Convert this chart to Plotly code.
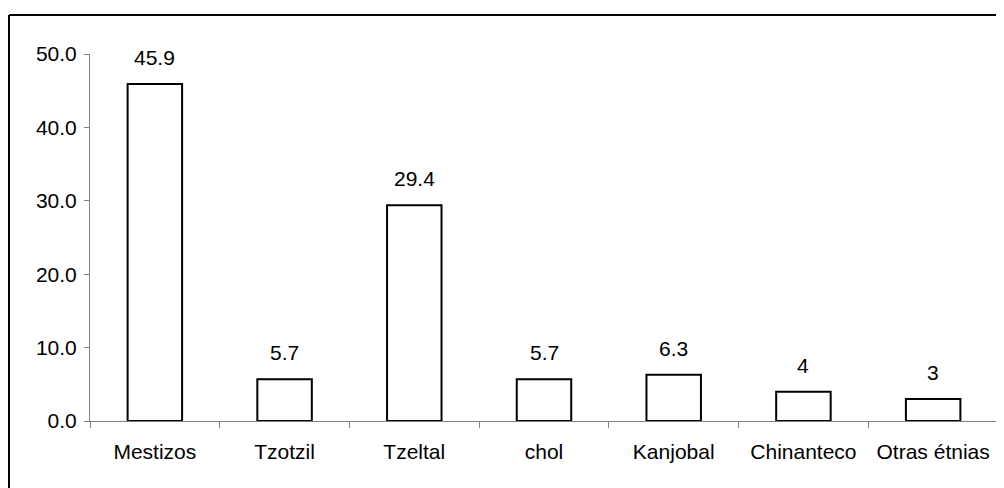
import plotly.graph_objects as go

categories = ["Mestizos", "Tzotzil", "Tzeltal", "chol", "Kanjobal", "Chinanteco", "Otras étnias"]
values = [45.9, 5.7, 29.4, 5.7, 6.3, 4, 3]
value_labels = ["45.9", "5.7", "29.4", "5.7", "6.3", "4", "3"]
y_ticks = [0, 10, 20, 30, 40, 50]

# page body has an 8px margin, so the figure starts at (8, 8)
OFF = 8
W, H = 1004 - OFF, 488 - OFF
L, R, T, B = 90 - OFF, 6, 54 - OFF, 67
FONT = "Liberation Sans, Arial"

fig = go.Figure()
fig.add_trace(go.Bar(
    x=categories, y=values,
    marker=dict(color="white", line=dict(color="black", width=2)),
    width=0.42,
    hoverinfo="skip",
))

for c, v, t in zip(categories, values, value_labels):
    fig.add_annotation(x=c, y=v, text=t, showarrow=False, xref="x", yref="y",
                       yanchor="bottom", yshift=13,
                       font=dict(family=FONT, size=21, color="black"))

pw = W - L - R
ph = H - T - B
bx = (9 - OFF - L) / pw
by = (H - B - (15 - OFF)) / ph
fig.add_shape(type="line", xref="paper", yref="paper",
              x0=bx, x1=bx, y0=-1, y1=by,
              line=dict(color="black", width=2))
fig.add_shape(type="line", xref="paper", yref="paper",
              x0=bx, x1=1.2, y0=by, y1=by,
              line=dict(color="black", width=2))

fig.update_layout(
    width=W, height=H,
    margin=dict(l=L, r=R, t=T, b=B),
    paper_bgcolor="white", plot_bgcolor="white",
    showlegend=False,
    font=dict(family=FONT, size=21, color="black"),
    xaxis=dict(
        type="category", showline=True, linecolor="#808080", linewidth=1,
        ticks="outside", tickson="boundaries", ticklen=6, tickcolor="#808080",
        showgrid=False, zeroline=False, range=[-0.5, 6.5],
        tickfont=dict(size=21), ticklabelstandoff=12,
    ),
    yaxis=dict(
        range=[0, 50], tickvals=y_ticks, tickformat=".1f",
        showline=True, linecolor="#808080", linewidth=1,
        ticks="outside", ticklen=5, tickcolor="#808080",
        showgrid=False, zeroline=False, tickfont=dict(size=21),
        ticklabelstandoff=3,
    ),
)

fig.write_html("out.html")
